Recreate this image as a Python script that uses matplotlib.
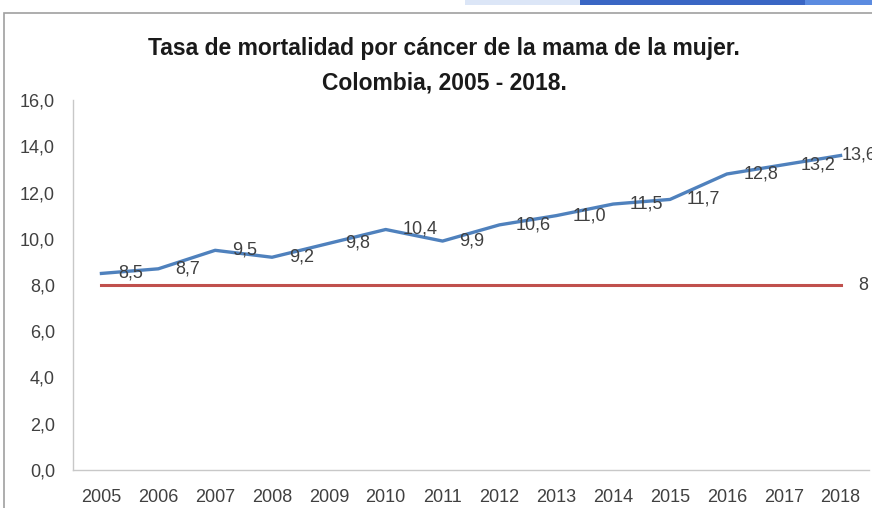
import matplotlib
matplotlib.use('Agg')
import matplotlib.pyplot as plt
from matplotlib.patches import Rectangle

# Data
years = [2005, 2006, 2007, 2008, 2009, 2010, 2011, 2012, 2013, 2014, 2015, 2016, 2017, 2018]
tasa = [8.5, 8.7, 9.5, 9.2, 9.8, 10.4, 9.9, 10.6, 11.0, 11.5, 11.7, 12.8, 13.2, 13.6]
meta = [8] * len(years)
y_ticks = [0, 2, 4, 6, 8, 10, 12, 14, 16]

plt.rcParams['font.family'] = ['Liberation Sans', 'DejaVu Sans']


def coma(v):
    return f'{v:.1f}'.replace('.', ',')


fig = plt.figure(figsize=(8.72, 5.08), dpi=100)

# chart frame and the screenshot strip on top
fig.patches.append(Rectangle((4 / 872, -0.1), 1.2, (508 - 13) / 508 + 0.1,
                             transform=fig.transFigure, fill=False,
                             edgecolor='#a0a0a0', linewidth=1.2))
fig.patches.append(Rectangle((465 / 872, 1 - 5 / 508), 115 / 872, 5 / 508,
                             transform=fig.transFigure, color='#dce6f7', linewidth=0))
fig.patches.append(Rectangle((580 / 872, 1 - 5 / 508), 225 / 872, 5 / 508,
                             transform=fig.transFigure, color='#3a66c4', linewidth=0))
fig.patches.append(Rectangle((805 / 872, 1 - 5 / 508), 67 / 872, 5 / 508,
                             transform=fig.transFigure, color='#5b8be0', linewidth=0))

ax = fig.add_axes([73 / 872, 38 / 508, 796 / 872, 370 / 508])

ax.plot(years, tasa, color='#4F81BD', linewidth=2.4, solid_joinstyle='round')
ax.plot(years, meta, color='#C0504D', linewidth=2.2)

for i, (x, v) in enumerate(zip(years, tasa)):
    dx = 1 if i == len(years) - 1 else 12
    ax.annotate(coma(v), (x, v), xytext=(dx, 0), textcoords='offset points',
                ha='left', va='center', fontsize=13, color='#404040',
                annotation_clip=False)
ax.annotate('8', (years[-1], meta[-1]), xytext=(13, 0), textcoords='offset points',
            ha='left', va='center', fontsize=13, color='#404040',
            annotation_clip=False)

ax.set_xlim(years[0] - 0.5, years[-1] + 0.5)
ax.set_ylim(0, 16)
ax.set_xticks(years)
ax.set_xticklabels([str(y) for y in years])
ax.set_yticks(y_ticks)
ax.set_yticklabels([coma(t) for t in y_ticks])
ax.tick_params(axis='both', length=0, labelsize=13, colors='#404040')
ax.tick_params(axis='x', pad=14)
ax.tick_params(axis='y', pad=13)

for side in ['top', 'right']:
    ax.spines[side].set_visible(False)
for side in ['left', 'bottom']:
    ax.spines[side].set_color('#c8c8c8')
    ax.spines[side].set_linewidth(1.0)

fig.text(444 / 872, 1 - 48 / 508, 'Tasa de mortalidad por cáncer de la mama de la mujer.',
         ha='center', va='center', fontsize=16.5, fontweight='bold', color='#1a1a1a')
fig.text(444 / 872, 1 - 83 / 508, 'Colombia, 2005 - 2018.',
         ha='center', va='center', fontsize=16.5, fontweight='bold', color='#1a1a1a')

fig.savefig('out.png', dpi=100)
